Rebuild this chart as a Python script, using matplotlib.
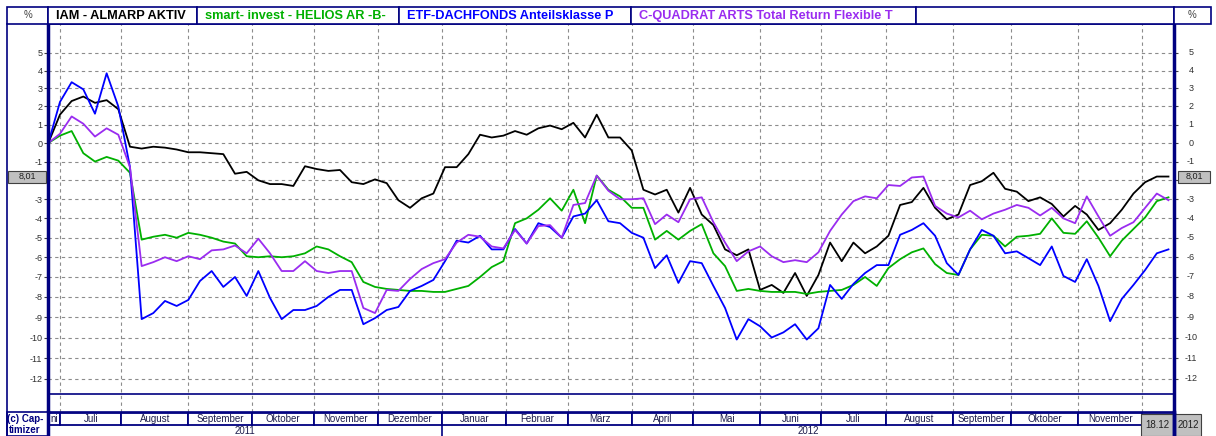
# Wertentwicklung von vier Fonds (Juni 2011 - Dezember 2012), nachgebaut

import numpy as np
import pandas as pd
import matplotlib
matplotlib.use('Agg')
import matplotlib.pyplot as plt
from matplotlib.patches import Rectangle
from matplotlib.transforms import blended_transform_factory

plt.rcParams['font.family'] = ['Liberation Sans', 'DejaVu Sans']

W, H = 1216, 436  # Bildgröße in Pixel
NAVY = '#000080'

days = pd.bdate_range('2011-06-27', '2012-12-18')
step = 4

iam = [0.0, 1.55, 2.3, 2.55, 2.2, 2.35, 1.85, -0.2, -0.3, -0.2,
       -0.25, -0.35, -0.5, -0.5, -0.55, -0.6, -1.65, -1.55, -2.0, -2.2,
       -2.2, -2.3, -1.25, -1.4, -1.5, -1.45, -2.1, -2.2, -1.95, -2.15,
       -3.05, -3.45, -2.95, -2.7, -1.3, -1.3, -0.6, 0.45, 0.3, 0.4,
       0.65, 0.45, 0.8, 0.95, 0.75, 1.1, 0.3, 1.55, 0.3, 0.3,
       -0.4, -2.5, -2.75, -2.5, -3.7, -2.4, -3.8, -4.35, -5.6, -5.9,
       -5.6, -7.65, -7.4, -7.8, -6.8, -7.95, -6.9, -5.25, -6.2, -5.25,
       -5.8, -5.45, -4.9, -3.3, -3.15, -2.4, -3.45, -4.05, -3.8, -2.25,
       -2.05, -1.6, -2.45, -2.6, -3.1, -2.9, -3.25, -3.9, -3.35, -3.8,
       -4.6, -4.25, -3.55, -2.7, -2.1, -1.8, -1.8]

helios = [0.0, 0.4, 0.65, -0.55, -1.0, -0.75, -0.95, -1.6, -5.1, -4.95,
          -4.85, -5.0, -4.75, -4.85, -5.0, -5.2, -5.3, -5.95, -6.0, -5.95,
          -6.0, -5.95, -5.8, -5.45, -5.6, -5.95, -6.25, -7.25, -7.5, -7.6,
          -7.65, -7.7, -7.7, -7.75, -7.75, -7.6, -7.45, -7.0, -6.5, -6.2,
          -4.25, -4.0, -3.55, -2.95, -3.6, -2.5, -4.25, -1.75, -2.5, -2.85,
          -3.45, -3.45, -5.1, -4.65, -5.1, -4.65, -4.3, -5.8, -6.45, -7.7,
          -7.6, -7.7, -7.75, -7.75, -7.75, -7.85, -7.75, -7.7, -7.65, -7.4,
          -7.0, -7.45, -6.55, -6.1, -5.75, -5.55, -6.35, -6.8, -6.9, -5.6,
          -4.85, -4.9, -5.45, -4.95, -4.9, -4.8, -4.0, -4.75, -4.8, -4.15,
          -5.0, -5.95, -5.15, -4.55, -3.95, -3.1, -2.9]

etf = [0.0, 2.25, 3.35, 2.95, 1.6, 3.85, 2.0, -1.3, -9.1, -8.8,
       -8.2, -8.45, -8.15, -7.2, -6.7, -7.5, -7.0, -7.95, -6.7, -8.05,
       -9.1, -8.65, -8.65, -8.45, -8.0, -7.65, -7.65, -9.35, -9.05, -8.65,
       -8.5, -7.7, -7.45, -7.15, -6.2, -5.15, -5.25, -4.9, -5.6, -5.6,
       -4.55, -5.3, -4.25, -4.45, -5.0, -3.9, -3.75, -3.05, -4.15, -4.25,
       -4.75, -5.0, -6.55, -5.9, -7.3, -6.2, -6.3, -7.45, -8.55, -10.1,
       -9.1, -9.45, -10.0, -9.75, -9.35, -10.1, -9.55, -7.4, -8.1, -7.35,
       -6.8, -6.4, -6.4, -4.85, -4.6, -4.25, -4.9, -6.3, -6.9, -5.6,
       -4.6, -4.9, -5.8, -5.7, -6.05, -6.4, -5.45, -6.95, -7.25, -6.1,
       -7.45, -9.2, -8.1, -7.4, -6.65, -5.8, -5.6]

cquad = [0.0, 0.5, 1.45, 1.05, 0.35, 0.8, 0.45, -1.3, -6.45, -6.25,
         -6.0, -6.2, -5.95, -6.1, -5.65, -5.6, -5.4, -5.8, -5.05, -5.8,
         -6.7, -6.7, -6.2, -6.7, -6.8, -6.7, -6.7, -8.55, -8.8, -7.65,
         -7.7, -7.1, -6.6, -6.3, -6.1, -5.25, -4.85, -4.95, -5.45, -5.55,
         -4.6, -5.3, -4.4, -4.35, -5.0, -3.3, -3.2, -1.75, -2.55, -3.0,
         -3.0, -2.95, -4.3, -3.8, -4.2, -3.0, -2.9, -4.2, -5.25, -6.2,
         -5.7, -5.45, -5.95, -6.25, -6.15, -6.25, -5.75, -4.65, -3.8, -3.1,
         -2.85, -2.95, -2.25, -2.3, -1.85, -1.8, -3.35, -3.75, -3.95, -3.6,
         -4.05, -3.75, -3.55, -3.3, -3.45, -3.85, -3.45, -4.0, -4.25, -2.85,
         -3.9, -4.9, -4.5, -4.2, -3.45, -2.7, -3.05]

series = [iam, helios, etf, cquad]
series_names = ['IAM - ALMARP AKTIV', 'smart- invest - HELIOS AR -B-',
                'ETF-DACHFONDS Anteilsklasse P',
                'C-QUADRAT ARTS Total Return Flexible T']
series_colors = ['#000000', '#00b000', '#0000ff', '#9a2cf0']

month_names = ['ni', 'Juli', 'August', 'September', 'Oktober', 'November',
               'Dezember', 'Januar', 'Februar', 'März', 'April', 'Mai', 'Juni',
               'Juli', 'August', 'September', 'Oktober', 'November', '']
year_labels = ['2011', '2012']
y_ticks = list(range(-12, 6))
last_label = '8,01'
end_label = ['18.12', '2012']


def px_box(x0, y0, x1, y1):
    # Pixelrechteck (y nach unten) -> Figure-Koordinaten
    return [x0 / W, 1 - y1 / H, (x1 - x0) / W, (y1 - y0) / H]


n = len(days)
month_idx = [0] + [i for i in range(1, n) if days[i].month != days[i - 1].month] + [n - 1]
year_idx = [i for i in range(1, n) if days[i].year != days[i - 1].year][0]
x = np.arange(0, n, step)[:len(iam)]

fig = plt.figure(figsize=(W / 100, H / 100), dpi=100)
fig.patch.set_facecolor('white')

X0, X1 = 48.3, 1174.3  # Achsenlinien links/rechts

# Hauptdiagramm (logarithmische Prozent-Skala)
ax = fig.add_axes(px_box(X0, 24, X1, 412))
ax.set_yscale('function', functions=(lambda p: np.log1p(np.asarray(p) / 100),
                                     lambda v: 100 * np.expm1(v)))
ax.set_xlim(0, n - 1)
ax.set_ylim(-13.56, 6.66)

for vals, col in zip(series, series_colors):
    ax.plot(x, vals, color=col, lw=1.3, solid_joinstyle='round')

# die Beschriftung -2 liegt im Original unter dem Kurskästchen
tick_text = ['' if t == -2 else str(t) for t in y_ticks]
ax.set_yticks(y_ticks)
ax.set_yticklabels(tick_text)
ax.set_xticks(month_idx[1:-1])
ax.set_xticklabels([])
ax.grid(True, linestyle=(0, (3, 3)), color='#8c8c8c', lw=0.8)
ax.tick_params(axis='x', length=0)
ax.tick_params(axis='y', left=True, right=True, labelleft=True, labelright=False,
               length=3, width=0.8, color='#404040', labelsize=6.5,
               labelcolor='#303030', pad=1.3)

# rechte Skala: zentrierte Beschriftung
trans_r = blended_transform_factory(ax.transAxes, ax.transData)
for t, s in zip(y_ticks, tick_text):
    ax.text(1 + 16.7 / (X1 - X0), t, s, transform=trans_r, ha='center', va='center',
            fontsize=6.5, color='#303030', clip_on=False)

for side in ['left', 'right']:
    ax.spines[side].set_color(NAVY)
    ax.spines[side].set_linewidth(2.5)
for side in ['top', 'bottom']:
    ax.spines[side].set_color(NAVY)
    ax.spines[side].set_linewidth(1.2)
# untere Trennlinie (leeres Band)
band = (412 - 394) / (412 - 24)
ax.plot([0, 1], [band, band], transform=ax.transAxes, color=NAVY, lw=1.2, clip_on=False)

# Monats- und Jahreszeile
axb = fig.add_axes(px_box(X0, 412, X1, 436))
axb.set_xlim(0, n - 1)
axb.set_ylim(24, 0)
axb.axis('off')
for k, name in enumerate(month_names):
    a, b = month_idx[k], month_idx[k + 1]
    axb.add_patch(Rectangle((a, 0.6), b - a, 12.4, fc='white', ec=NAVY, lw=1.3, clip_on=False))
    if name:
        axb.text((a + b) / 2, 6.8, name, ha='center', va='center', fontsize=7,
                 color='#1c1c4c', clip_on=False)
axb.plot([year_idx, year_idx], [13, 24], color=NAVY, lw=1.2, clip_on=False)
axb.text(year_idx / 2, 19, year_labels[0], ha='center', va='center', fontsize=7, color='#1c1c4c')
axb.text((year_idx + n - 1) / 2, 19, year_labels[1], ha='center', va='center', fontsize=7,
         color='#1c1c4c')

# Rahmen, Kopfzeile, Beschriftungen in Pixelkoordinaten
ov = fig.add_axes([0, 0, 1, 1])
ov.set_xlim(0, W)
ov.set_ylim(H, 0)
ov.axis('off')
ov.patch.set_alpha(0)

head = [(7, X0), (X0, 197), (197, 399), (399, 631), (631, 916), (916, X1), (X1, 1211)]
for x0, x1 in head:
    ov.add_patch(Rectangle((x0, 7), x1 - x0, 17, fc='white', ec=NAVY, lw=1.2))
ov.text(27.5, 15.5, '%', ha='center', va='center', fontsize=7, color='#404040')
ov.text(1192.5, 15.5, '%', ha='center', va='center', fontsize=7, color='#404040')
for (x0, x1), name, col in zip(head[1:5], series_names, series_colors):
    ov.text(x0 + 8, 15.8, name, ha='left', va='center', fontsize=9.2,
            fontweight='bold', color=col)

ov.plot([7, 7], [24, 436], color=NAVY, lw=1.2)
ov.plot([X0, X0], [412, 436], color=NAVY, lw=2.5)
ov.plot([X1, X1], [412, 436], color=NAVY, lw=2.5)
ov.add_patch(Rectangle((7, 412), X0 - 7, 24, fc='white', ec=NAVY, lw=1.2))
ov.text(25, 418.5, '(c) Cap-', ha='center', va='center', fontsize=7,
        fontweight='bold', color=NAVY)
ov.text(25, 430, 'timizer', ha='center', va='center', fontsize=7,
        fontweight='bold', color=NAVY)

# Kästchen mit letztem Kurs
y_last = H - ax.transData.transform((0, iam[-1]))[1]
for bx0, bx1 in [(8, 46), (1178, 1210)]:
    ov.add_patch(Rectangle((bx0, y_last - 6), bx1 - bx0, 12, fc='#c0c0c0', ec='#404040', lw=0.8))
    ov.text((bx0 + bx1) / 2, y_last, last_label, ha='center', va='center',
            fontsize=6.5, color='#202020')

# Datumskästchen unten rechts
ov.add_patch(Rectangle((1141, 414), 60, 22, fc='#c0c0c0', ec='#404040', lw=0.8))
ov.plot([X1, X1], [414, 436], color=NAVY, lw=2.5)
ov.text(1157.5, 425, end_label[0], ha='center', va='center', fontsize=7, color='#202020')
ov.text(1188, 425, end_label[1], ha='center', va='center', fontsize=7, color='#202020')

fig.savefig('out.png', dpi=100)
